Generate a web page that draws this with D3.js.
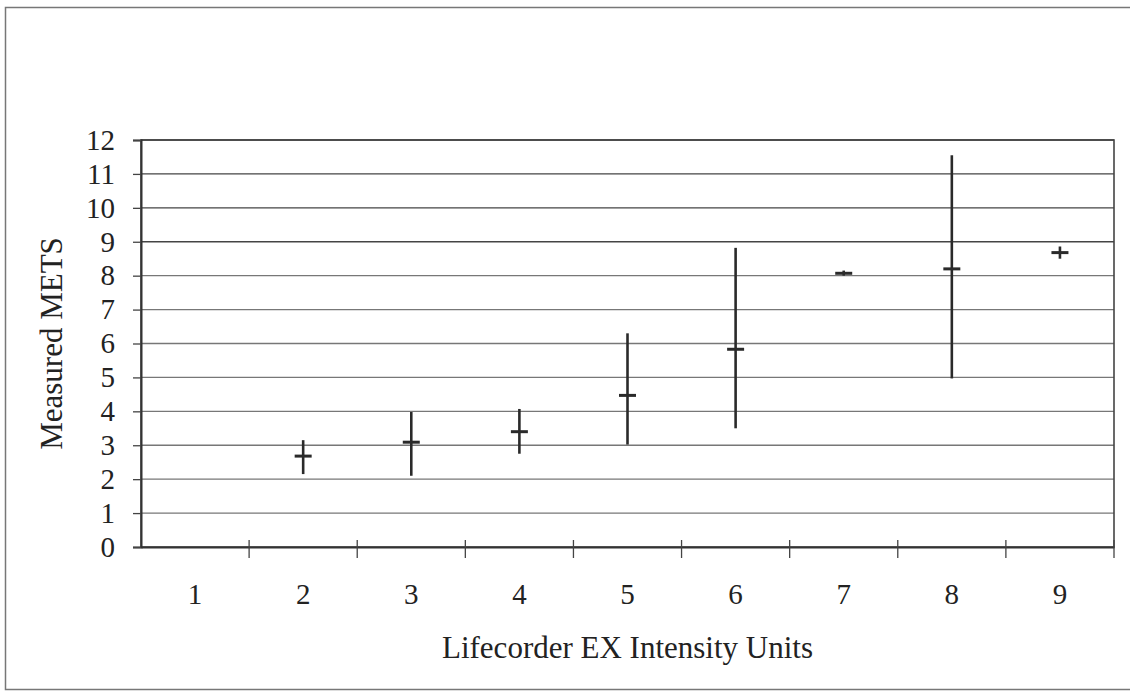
<!DOCTYPE html>
<head>
  <meta charset="utf-8">
  <script src="https://d3js.org/d3.v7.min.js"></script>
  <style>
    body { margin: 0; background: #fff; }
    svg { width: 1130px; height: 692px; display: block; }
    text { font-family: "Liberation Serif", "Times New Roman", serif; fill: #222; }
  </style>
</head>
<body>
  <svg></svg>
  <script>
    // data (category 1 has no point)
    var categories = [1, 2, 3, 4, 5, 6, 7, 8, 9];
    var means = [null, 2.68, 3.09, 3.4, 4.47, 5.83, 8.07, 8.2, 8.68];
    var lows  = [null, 2.15, 2.1, 2.75, 3.02, 3.5, 8.0, 4.97, 8.5];
    var highs = [null, 3.15, 3.98, 4.07, 6.3, 8.82, 8.15, 11.55, 8.86];
    var yTicks = d3.range(0, 13);

    var plotLeft = 141, plotRight = 1114, plotTop = 140, plotBottom = 547;
    var svg = d3.select('svg');

    // outer frame
    svg.append('rect')
      .attr('x', 5.5).attr('y', 7.5)
      .attr('width', 1140).attr('height', 682)
      .attr('fill', 'none').attr('stroke', '#777').attr('stroke-width', 1.5);

    var x = d3.scaleBand().domain(categories).range([plotLeft, plotRight]);
    var y = d3.scaleLinear().domain([0, 12]).range([plotBottom, plotTop]);

    // gridlines
    svg.append('g').selectAll('line')
      .data(yTicks.slice(1)).enter().append('line')
      .attr('x1', plotLeft).attr('x2', plotRight)
      .attr('y1', function(d) { return y(d); })
      .attr('y2', function(d) { return y(d); })
      .attr('stroke', function(d) { return d >= 9 ? '#444' : '#777'; })
      .attr('stroke-width', 1.3);

    // plot frame
    svg.append('rect')
      .attr('x', plotLeft).attr('y', plotTop)
      .attr('width', plotRight - plotLeft).attr('height', plotBottom - plotTop)
      .attr('fill', 'none').attr('stroke', '#444').attr('stroke-width', 1.6);

    // y axis
    var yAxis = svg.append('g')
      .attr('transform', 'translate(' + plotLeft + ',0)')
      .call(d3.axisLeft(y).tickValues(yTicks).tickSize(8).tickPadding(18));
    yAxis.select('.domain').attr('stroke', '#333').attr('stroke-width', 2);
    yAxis.selectAll('.tick line').attr('stroke', '#444').attr('stroke-width', 1.3);
    yAxis.selectAll('text').attr('font-size', 29).attr('fill', '#222')
      .style('font-family', '"Liberation Serif", serif');

    // x axis labels
    var xAxis = svg.append('g')
      .attr('transform', 'translate(0,' + plotBottom + ')')
      .call(d3.axisBottom(x).tickSize(0).tickPadding(36));
    xAxis.select('.domain').attr('stroke', '#333').attr('stroke-width', 2);
    xAxis.selectAll('text').attr('font-size', 29).attr('fill', '#222')
      .style('font-family', '"Liberation Serif", serif');

    // x tick marks at category boundaries
    svg.append('g').selectAll('line')
      .data(categories.slice(1).concat(['end'])).enter().append('line')
      .attr('x1', function(d) { return d === 'end' ? plotRight : x(d); })
      .attr('x2', function(d) { return d === 'end' ? plotRight : x(d); })
      .attr('y1', plotBottom - 7).attr('y2', plotBottom + 11)
      .attr('stroke', '#444').attr('stroke-width', 1.3);

    // error bars and mean marks
    var pts = categories.map(function(c, i) {
      return { c: c, m: means[i], lo: lows[i], hi: highs[i] };
    }).filter(function(d) { return d.m !== null; });

    var marks = svg.append('g');
    marks.selectAll('line.bar')
      .data(pts).enter().append('line')
      .attr('class', 'bar')
      .attr('x1', function(d) { return x(d.c) + x.bandwidth() / 2; })
      .attr('x2', function(d) { return x(d.c) + x.bandwidth() / 2; })
      .attr('y1', function(d) { return y(d.lo); })
      .attr('y2', function(d) { return y(d.hi); })
      .attr('stroke', '#2a2a2a').attr('stroke-width', 2.6);
    marks.selectAll('line.mean')
      .data(pts).enter().append('line')
      .attr('class', 'mean')
      .attr('x1', function(d) { return x(d.c) + x.bandwidth() / 2 - 8.5; })
      .attr('x2', function(d) { return x(d.c) + x.bandwidth() / 2 + 8.5; })
      .attr('y1', function(d) { return y(d.m); })
      .attr('y2', function(d) { return y(d.m); })
      .attr('stroke', '#2a2a2a').attr('stroke-width', 3);

    // axis titles
    svg.append('text')
      .attr('x', (plotLeft + plotRight) / 2).attr('y', 658)
      .attr('text-anchor', 'middle').attr('font-size', 31)
      .text('Lifecorder EX Intensity Units');
    svg.append('text')
      .attr('transform', 'translate(62,' + (plotTop + plotBottom) / 2 + ')rotate(-90)')
      .attr('text-anchor', 'middle').attr('font-size', 31)
      .text('Measured METS');
  </script>
</body>
